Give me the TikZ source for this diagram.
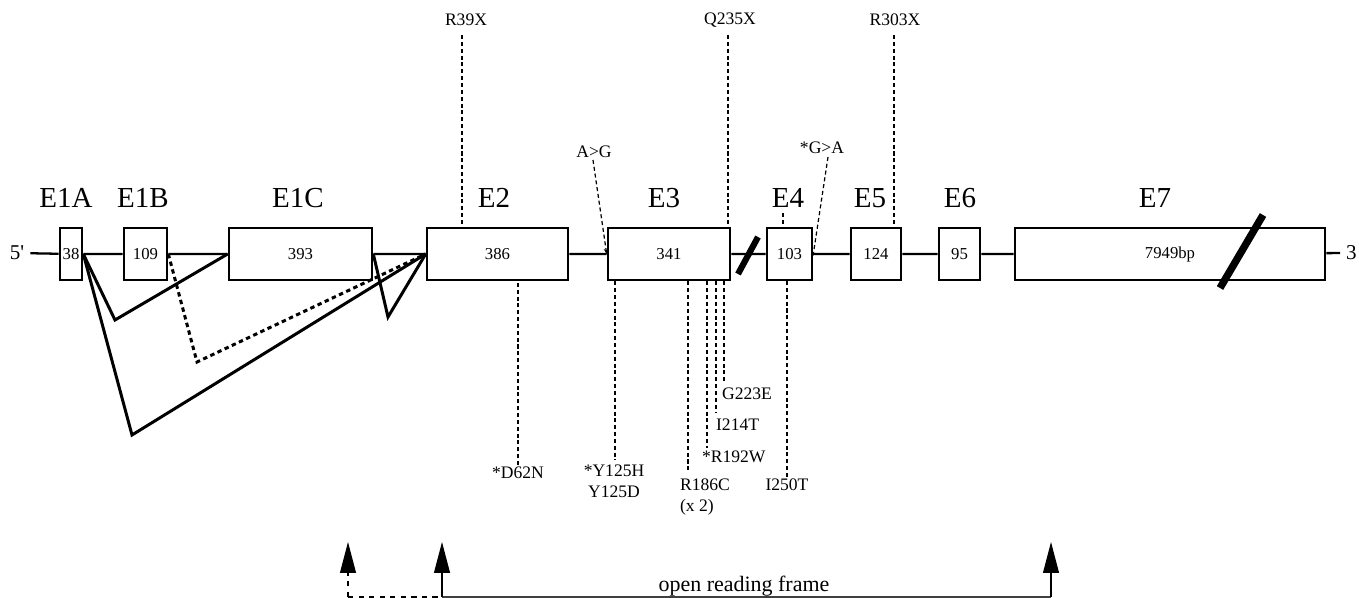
\documentclass[tikz,border=0pt]{standalone}
\usepackage{fontspec}
\setmainfont{Liberation Serif}
\usetikzlibrary{arrows.meta}

\begin{document}
\begin{tikzpicture}[x=0.02cm,y=-0.02cm,
  exon/.style={draw,line width=1.5pt,fill=white,inner sep=0pt,minimum height=1.04cm,
    minimum width=#1*0.02cm,font=\fontsize{9.5}{10}\selectfont},
  exname/.style={font=\fontsize{16.5}{18}\selectfont},
  intron/.style={line width=1.3pt},
  splice/.style={line width=1.7pt},
  cut/.style={line width=3.5pt},
  mut/.style={line width=0.7pt,dash pattern=on 2.3pt off 1.6pt},
  mutlab/.style={inner sep=1pt,font=\fontsize{10}{12}\selectfont},
  orfarrow/.style={line width=0.7pt,-{Triangle[length=17.5pt,width=9pt]}}]
\useasboundingbox (0,0) rectangle (1359,598);

\node[exon=22] (e1a) at (71,254) {38};
\node[exon=43] (e1b) at (145.5,254) {109};
\node[exon=143] (e1c) at (300.5,254) {393};
\node[exon=141] (e2) at (497.5,254) {386};
\node[exon=122] (e3) at (669,254) {341};
\node[exon=45] (e4) at (789.5,254) {103};
\node[exon=50] (e5) at (876,254) {124};
\node[exon=41] (e6) at (959.5,254) {95};
\node[exon=310] (e7) at (1170,254) {7949bp};
\node[font=\fontsize{12}{14}\selectfont] (five) at (17,253) {5\textquotesingle};
\node[font=\fontsize{12}{14}\selectfont,anchor=west] (three) at (1340,253) {3};

\node[exname] (n1a) at (66,198) {E1A};
\node[exname] (n1b) at (143,198) {E1B};
\node[exname] (n1c) at (298,198) {E1C};
\node[exname] (n2) at (494,198) {E2};
\node[exname] (n3) at (664,198) {E3};
\node[exname] (n4) at (788,198) {E4};
\node[exname] (n5) at (870,198) {E5};
\node[exname] (n6) at (960,198) {E6};
\node[exname] (n7) at (1155,198) {E7};

\draw[intron] (five) -- (e1a) -- (e1b) -- (e1c) -- (e2) -- (e3) -- (e4) -- (e5) -- (e6) -- (e7) -- (three);
\draw[cut] (738,274) -- (758,237);
\draw[cut,line width=4.2pt] (1220,288) -- (1263,215);

\coordinate (v1) at (115,320);
\coordinate (v2) at (132,435);
\coordinate (v3) at (388,317);
\coordinate (v4) at (197,362);
\draw[splice] (e1a.east) -- (v1) -- (e1c.west);
\draw[splice] (e1a.east) -- (v2) -- (e2.west);
\draw[splice] (e1c.east) -- (v3) -- (e2.west);
\draw[splice,dash pattern=on 2.5pt off 2pt] (e1b.east) -- (v4) -- (e2.west);

\node[mutlab] (r39x) at (466,20) {R39X};
\node[mutlab] (q235x) at (730,20) {Q235X};
\node[mutlab] (r303x) at (895,20) {R303X};
\coordinate (m39) at (462,35);
\coordinate (m235) at (728,35);
\coordinate (m303) at (894,35);
\draw[mut] (m39) -- (m39 |- e2.north);
\draw[mut] (m235) -- (m235 |- e3.north);
\draw[mut] (m303) -- (m303 |- e5.north);

\node[mutlab] (ag) at (594,152) {A>G};
\coordinate (mag) at (593,160);
\draw[mut,-{Stealth[length=3pt,width=2.5pt]}] (mag) -- (e3.west);
\node[mutlab] (ga) at (822,148) {*G>A};
\coordinate (mga) at (828,157);
\draw[mut] (mga) -- (e4.east);
\fill (e4.east) circle (1.6);
\coordinate (m4) at (783,213);
\draw[mut] (m4) -- (m4 |- e4.north);

\node[mutlab] (d62n) at (518,473) {*D62N};
\draw[mut] (d62n.north) -- (d62n.north |- e2.south);
\node[mutlab,align=center] (y125) at (614,481) {*Y125H\\Y125D};
\coordinate (m125) at (615,460);
\draw[mut] (m125 |- e3.south) -- (m125);
\node[mutlab,align=left,anchor=west] (r186c) at (678,497) {R186C\\(x 2)};
\coordinate (m186) at (688,470);
\draw[mut] (m186 |- e3.south) -- (m186);
\node[mutlab,anchor=west] (r192w) at (700,457) {*R192W};
\coordinate (m192) at (707,448);
\draw[mut] (m192 |- e3.south) -- (m192);
\node[mutlab,anchor=west] (i214t) at (714,425) {I214T};
\coordinate (m214) at (716,412);
\draw[mut] (m214 |- e3.south) -- (m214);
\node[mutlab,anchor=west] (g223e) at (720,394) {G223E};
\coordinate (m223) at (724,383);
\draw[mut] (m223 |- e3.south) -- (m223);
\node[mutlab] (i250t) at (787,485) {I250T};
\draw[mut] (i250t.north) -- (i250t.north |- e4.south);

\coordinate (orfa) at (348,597);
\coordinate (orfb) at (442,597);
\coordinate (orfc) at (1051,597);
\draw[line width=0.7pt,dashed] (orfa) -- (orfb);
\draw[line width=0.6pt,black!75] (orfb) -- (orfc);
\draw[orfarrow,dashed] (orfa) -- ++(0,-55);
\draw[orfarrow] (orfb) -- ++(0,-55);
\draw[orfarrow] (orfc) -- ++(0,-55);
\node[font=\fontsize{12.5}{14}\selectfont] (orf) at (744,586) {open reading frame};
\end{tikzpicture}
\end{document}
